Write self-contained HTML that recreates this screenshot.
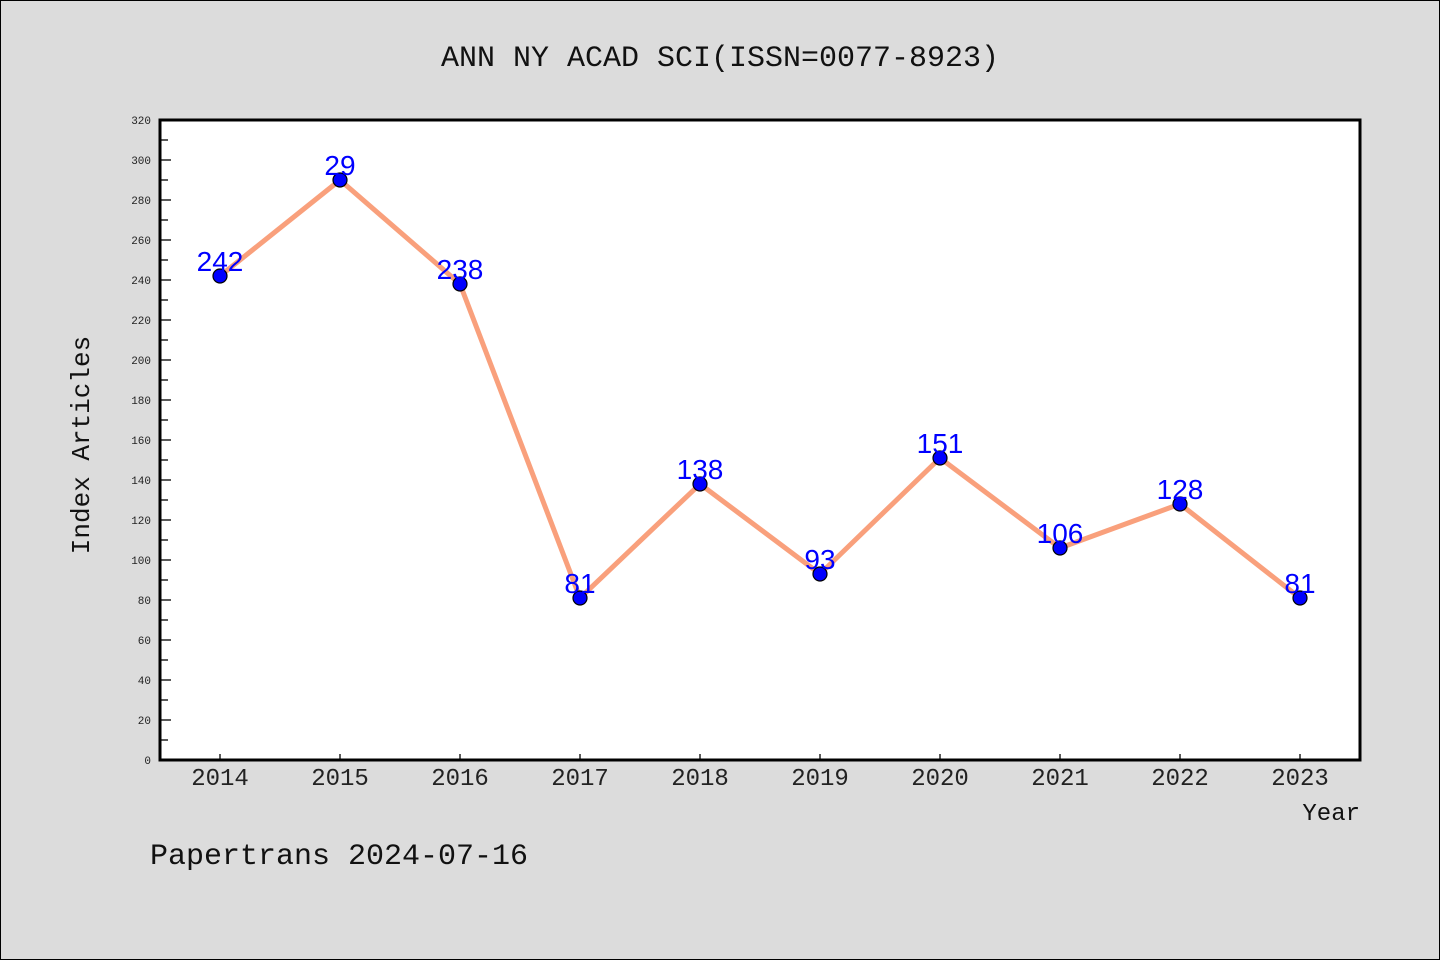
<!DOCTYPE html>
<html><head><meta charset="utf-8"><style>
html,body{margin:0;padding:0;background:#dcdcdc;}
svg{display:block;font-family:"Liberation Mono","DejaVu Sans Mono",monospace;}
</style></head><body>
<svg id="chart" width="1440" height="960" viewBox="0 0 1440 960">
<rect x="0.5" y="0.5" width="1439" height="959" fill="#dcdcdc" stroke="#000"/>
<text x="720" y="66" font-size="30" text-anchor="middle" fill="#111">ANN NY ACAD SCI(ISSN=0077-8923)</text>
<rect x="160" y="120" width="1200" height="640" fill="#fff"/>
<g id="axes"></g>
<g id="series"></g>
<rect x="160" y="120" width="1200" height="640" fill="none" stroke="#000" stroke-width="3"/>
<text transform="translate(89,445) rotate(-90)" font-size="26" text-anchor="middle" fill="#111">Index Articles</text>
<text x="1360" y="820" font-size="24" text-anchor="end" fill="#111">Year</text>
<text x="150" y="864" font-size="30" fill="#111">Papertrans 2024-07-16</text>
</svg>
<script>
const categories = ["2014","2015","2016","2017","2018","2019","2020","2021","2022","2023"];
const values = [242,290,238,81,138,93,151,106,128,81];
const valueLabels = ["242","29","238","81","138","93","151","106","128","81"];
const yTicks = [0,20,40,60,80,100,120,140,160,180,200,220,240,260,280,300,320];

const NS="http://www.w3.org/2000/svg";
const x0=160,x1=1360,y0=760,y1=120,yMax=320;
const xScale=i=>x0+60+i*120;
const yScale=v=>y0-(v/yMax)*(y0-y1);
function mk(tag,attrs,parent){const e=document.createElementNS(NS,tag);for(const k in attrs)e.setAttribute(k,attrs[k]);parent.appendChild(e);return e;}
const axes=document.getElementById('axes'),series=document.getElementById('series');
yTicks.forEach((t,i)=>{
  const y=yScale(t);
  const l=mk('line',{x1:160,x2:171,y1:y,y2:y,stroke:'#000','stroke-width':1.3},axes);
  
  
  const tx=mk('text',{x:151,y:y+4,'font-size':11,'text-anchor':'end',fill:'#222'},axes);
  
  
  tx.textContent=t;
  if(i<yTicks.length-1){
    const ym=yScale(t+10);
    const m=mk('line',{x1:160,x2:168,y1:ym,y2:ym,stroke:'#000','stroke-width':1.3},axes);
    
    
  }
});
categories.forEach((c,i)=>{
  const x=xScale(i);
  const l=mk('line',{x1:x,x2:x,y1:760,y2:754,stroke:'#000','stroke-width':1.3},axes);
  
  
  const tx=mk('text',{x:x,y:785,'font-size':24,'text-anchor':'middle',fill:'#222'},axes);
  
  
  tx.textContent=c;
});
const pts=values.map((v,i)=>xScale(i)+','+yScale(v)).join(' ');
const pl=mk('polyline',{points:pts,fill:'none',stroke:'#f9a07c','stroke-width':5,'stroke-linejoin':'round'},series);


values.forEach((v,i)=>{
  const c=mk('circle',{cx:xScale(i),cy:yScale(v),r:7,fill:'#0000ff',stroke:'#000','stroke-width':1.2},series);
  
  
  const t=mk('text',{x:xScale(i),y:yScale(v)-5,'font-size':28,'text-anchor':'middle',fill:'#0000ff','font-family':'"Liberation Sans",sans-serif'},series);
  
  
  t.textContent=valueLabels[i];
});
</script>
</body></html>
